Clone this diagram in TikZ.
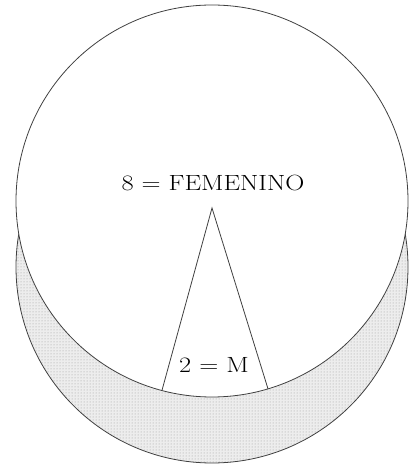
\documentclass[tikz,border=0pt]{standalone}
\usetikzlibrary{patterns,calc}
\begin{document}
\begin{tikzpicture}[x=1pt,y=1pt,
  outline/.style={draw=black!75,line width=0.8pt},
  lbl/.style={inner sep=0pt,font=\fontsize{22}{26}\selectfont}]
\useasboundingbox (0,0) rectangle (409,465);
\coordinate (ctop) at (212,264);
\coordinate (cbot) at (212,198);
% lower shaded circle
\fill[black!7] (cbot) circle[radius=196];
\fill[pattern=dots,pattern color=black!40] (cbot) circle[radius=196];
\draw[outline] (cbot) circle[radius=196];
% upper white circle
\fill[white] (ctop) circle[radius=196];
\draw[outline] (ctop) circle[radius=196];
% triangle
\coordinate (apex) at (212,257);
\coordinate (bl) at ($(ctop)+(255.2:196)$);
\coordinate (br) at ($(ctop)+(286.6:196)$);
\draw[outline,line join=miter] (bl) -- (apex) -- (br);
% labels
\node[lbl] (fem) at (213,282) {\scalebox{1.2}[1]{8 = FEMENINO}};
\node[lbl] (mas) at (214,100) {\scalebox{1.2}[1]{2 = M}};
\end{tikzpicture}
\end{document}
